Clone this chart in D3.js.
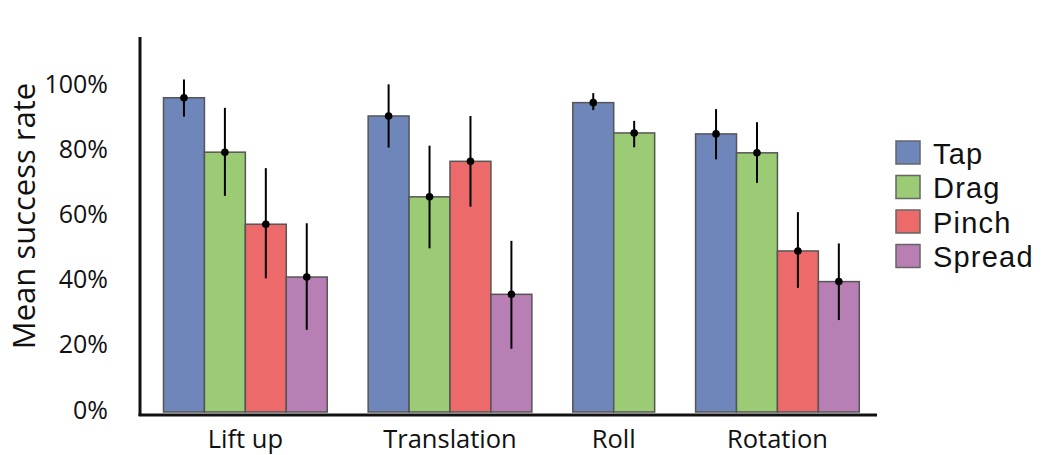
<!DOCTYPE html>
<html><head><meta charset="utf-8">
<script src="https://cdn.jsdelivr.net/npm/d3@7"></script>
<style>body{margin:0;background:#fff;} svg{display:block;font-family:"Open Sans",sans-serif;}</style>
</head><body>
<svg id="chart" width="1052" height="455"></svg>
<script>
const categories = ["Lift up", "Translation", "Roll", "Rotation"];
const seriesNames = ["Tap", "Drag", "Pinch", "Spread"];
const colors = ["#6F86BA", "#9BCB74", "#EC6A6A", "#B87FB4"];
// mean, lower, upper (percent); null = not tested
const tapValues    = [[96.4, 90.6, 102], [90.8, 81.1, 100.5], [94.9, 92.6, 97.8], [85.3, 77.5, 92.9]];
const dragValues   = [[79.7, 66.3, 93.3], [66, 50.2, 81.7], [85.6, 81.2, 89.3], [79.5, 70.3, 88.9]];
const pinchValues  = [[57.6, 41, 74.8], [76.9, 63, 90.8], null, [49.4, 38.1, 61.3]];
const spreadValues = [[41.4, 25.2, 57.9], [36.1, 19.4, 52.5], null, [40, 28.2, 51.7]];
const yTicks = [0, 20, 40, 60, 80, 100];
const series = [tapValues, dragValues, pinchValues, spreadValues];

const svg = d3.select("#chart");
const y = d3.scaleLinear().domain([0, 100]).range([412, 86]);

// build bar slots: each group has its present bars, groups separated by one empty slot
const bars = [];
let slot = 0;
const groupCenters = [];
categories.forEach((c, ci) => {
  const start = slot;
  series.forEach((s, si) => {
    if (s[ci]) { bars.push({cat: c, si, slot, v: s[ci][0], lo: s[ci][1], hi: s[ci][2]}); slot++; }
  });
  groupCenters.push({cat: c, center: (start + slot) / 2});
  slot++;
});
const totalSlots = slot - 1;
const x = d3.scaleLinear().domain([0, totalSlots]).range([163.5, 859.3]);
const bw = x(1) - x(0);

// bars
svg.append("g").selectAll("rect").data(bars).join("rect")
  .attr("x", d => x(d.slot)).attr("width", bw)
  .attr("y", d => y(d.v)).attr("height", d => y(0) - y(d.v))
  .attr("fill", d => colors[d.si]).attr("stroke", "#555").attr("stroke-width", 1.5);

// error bars
const eg = svg.append("g");
eg.selectAll("line").data(bars).join("line")
  .attr("x1", d => x(d.slot + 0.5)).attr("x2", d => x(d.slot + 0.5))
  .attr("y1", d => y(d.lo)).attr("y2", d => y(d.hi))
  .attr("stroke", "#000").attr("stroke-width", 2);
eg.selectAll("circle").data(bars).join("circle")
  .attr("cx", d => x(d.slot + 0.5)).attr("cy", d => y(d.v)).attr("r", 3.8).attr("fill", "#000");

// axes lines
svg.append("line").attr("x1", 140).attr("x2", 140).attr("y1", 37).attr("y2", 416)
  .attr("stroke", "#111").attr("stroke-width", 3);
svg.append("line").attr("x1", 138.5).attr("x2", 877).attr("y1", 415).attr("y2", 415)
  .attr("stroke", "#111").attr("stroke-width", 3);

// y tick labels
const yAxis = d3.axisLeft(y).tickValues(yTicks).tickFormat(d => d + "%").tickSize(0).tickPadding(0);
const ya = svg.append("g").attr("transform", "translate(108,-2)").call(yAxis);
ya.select(".domain").remove();
ya.selectAll("text").attr("font-size", 25).attr("fill", "#111").attr("font-family", "Open Sans, sans-serif");

// x labels
svg.append("g").selectAll("text").data(groupCenters).join("text")
  .attr("x", d => x(d.center)).attr("y", 448).attr("text-anchor", "middle")
  .attr("font-size", 25.5).attr("fill", "#111").text(d => d.cat);

// y title
svg.append("text").attr("transform", "translate(35,216) rotate(-90)")
  .attr("text-anchor", "middle").attr("font-size", 31).attr("fill", "#111").text("Mean success rate");

// legend
const lg = svg.append("g").selectAll("g").data(seriesNames).join("g")
  .attr("transform", (d, i) => `translate(896,${141 + i * 34.5})`);
lg.append("rect").attr("width", 24).attr("height", 23).attr("fill", (d, i) => colors[i])
  .attr("stroke", "#666").attr("stroke-width", 1.5);
lg.append("text").attr("x", 37).attr("y", 22.5)
  .attr("font-family", "'Liberation Sans', Arial, sans-serif")
  .attr("font-size", 29).attr("letter-spacing", 1.2).attr("fill", "#111").text(d => d);
</script>
</body></html>
